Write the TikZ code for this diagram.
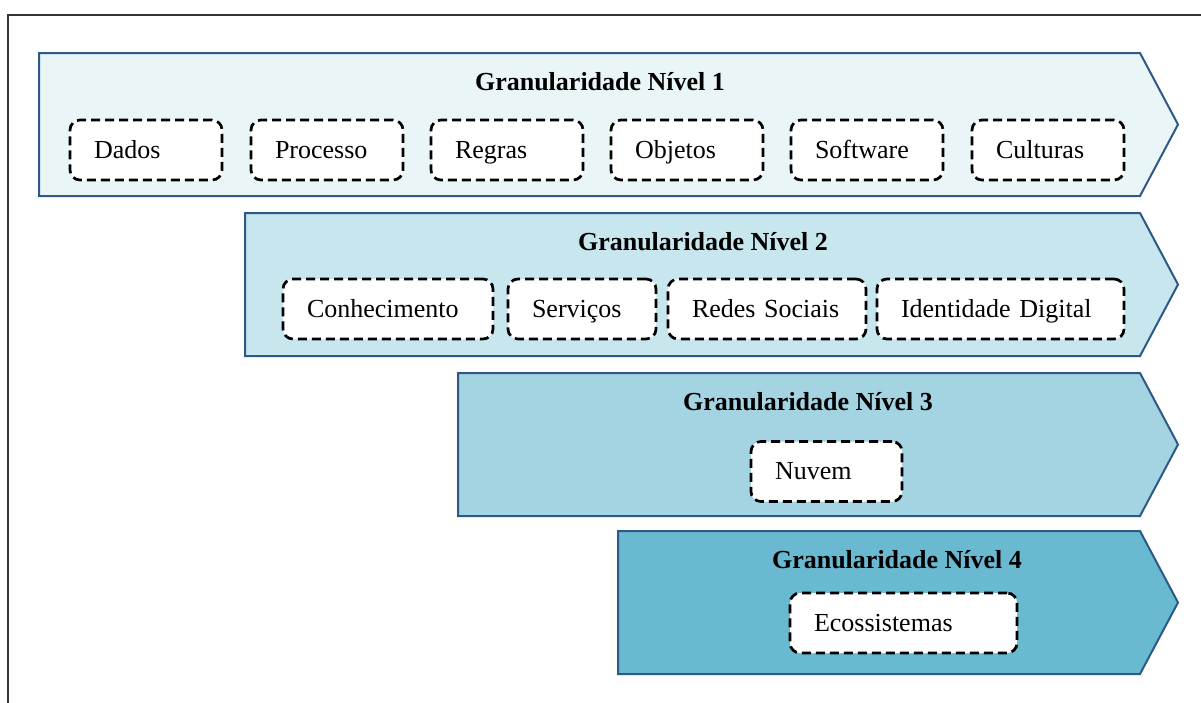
\documentclass[tikz,border=0pt]{standalone}
\usepackage{fontspec}
\setmainfont{Liberation Serif}
\usepackage{xcolor}
\definecolor{borda}{HTML}{2D5986}
\definecolor{nivelA}{HTML}{EAF5F8}
\definecolor{nivelB}{HTML}{C7E6EE}
\definecolor{nivelC}{HTML}{A4D4E2}
\definecolor{nivelD}{HTML}{69B9D0}

\begin{document}
\begin{tikzpicture}[x=1pt, y=-1pt]
\tikzstyle{nivel}=[draw=borda, line width=2pt, line join=miter]
\tikzstyle{titulo}=[font=\fontsize{26}{31}\selectfont\bfseries, inner sep=0pt]
\tikzstyle{item}=[rectangle, draw, fill=white, rounded corners=10pt, line width=2.7pt,
  dash pattern=on 9pt off 5pt, minimum height=60pt, inner xsep=24pt, inner ysep=0pt,
  text height=20pt, text depth=4pt, align=left, font=\fontsize{26}{31}\selectfont]
\useasboundingbox (0,0) rectangle (1201,702);
\draw[line width=2pt, black!80] (8,712) -- (8,15) -- (1212,15);

% niveis
\draw[nivel, fill=nivelA] (39,53) -- (1140,53) -- (1178,124.5) -- (1140,196) -- (39,196) -- cycle;
\draw[nivel, fill=nivelB] (245,213) -- (1140,213) -- (1178,284.5) -- (1140,356) -- (245,356) -- cycle;
\draw[nivel, fill=nivelC] (458,373) -- (1140,373) -- (1178,444.5) -- (1140,516) -- (458,516) -- cycle;
\draw[nivel, fill=nivelD] (618,531) -- (1140,531) -- (1178,602.5) -- (1140,674) -- (618,674) -- cycle;

\node[titulo] (t1) at (600,82) {Granularidade Nível 1};
\node[titulo] (t2) at (703,242) {Granularidade Nível 2};
\node[titulo] (t3) at (808,402) {Granularidade Nível 3};
\node[titulo] (t4) at (897,560) {Granularidade Nível 4};

% nivel 1
\node[item, text width=104pt] (dados) at (146,150) {Dados};
\node[item, text width=104pt] (processo) at (327,150) {Processo};
\node[item, text width=104pt] (regras) at (507,150) {Regras};
\node[item, text width=104pt] (objetos) at (687,150) {Objetos};
\node[item, text width=104pt] (software) at (867,150) {Software};
\node[item, text width=104pt] (culturas) at (1048,150) {Culturas};

% nivel 2
\node[item, text width=162pt] (conhecimento) at (388,309) {Conhecimento};
\node[item, text width=100pt] (servicos) at (582,309) {Serviços};
\node[item, text width=150pt] (redes) at (767,309) {Redes Sociais};
\node[item, text width=199pt] (identidade) at (1000.5,309) {Identidade Digital};

% nivel 3 e 4
\node[item, text width=103pt] (nuvem) at (826.5,471.5) {Nuvem};
\node[item, text width=179pt] (ecossistemas) at (903.5,623) {Ecossistemas};

\end{tikzpicture}
\end{document}
